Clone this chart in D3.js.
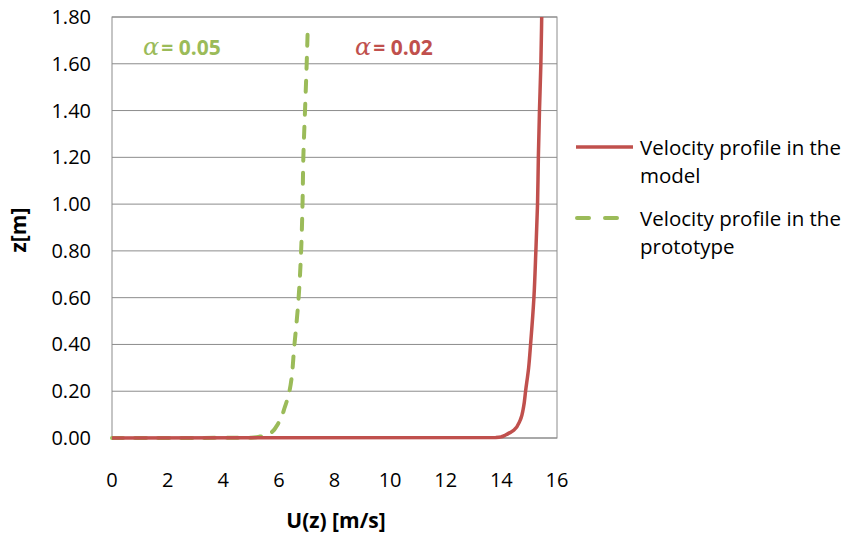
<!DOCTYPE html>
<html>
<head>
<meta charset="utf-8">
<script src="https://d3js.org/d3.v7.min.js"></script>
<style>
  body { margin: 0; background: #fff; }
  text { font-family: "Open Sans", "Noto Sans", sans-serif; fill: #000; }
</style>
</head>
<body>
<div id="chart"></div>
<script>
// values: height z [m] and velocity U [m/s]
var modelZ = [0, 0.002, 0.005, 0.013, 0.034, 0.077, 0.134, 0.2, 0.3, 0.4, 0.6, 0.8, 1.0, 1.2, 1.4, 1.6, 1.8];
var modelU = [0, 13.8, 14.0, 14.15, 14.45, 14.68, 14.8, 14.87, 14.98, 15.05, 15.17, 15.24, 15.3, 15.33, 15.37, 15.42, 15.45];
var protoZ = [0, 0.001, 0.006, 0.02, 0.063, 0.134, 0.2, 0.4, 0.6, 0.8, 1.0, 1.2, 1.4, 1.6, 1.76];
var protoU = [0, 5.0, 5.32, 5.68, 5.98, 6.22, 6.38, 6.56, 6.71, 6.8, 6.85, 6.88, 6.94, 7.0, 7.04];
var xTicks = [0, 2, 4, 6, 8, 10, 12, 14, 16];
var yTicks = [0, 0.2, 0.4, 0.6, 0.8, 1.0, 1.2, 1.4, 1.6, 1.8];
var seriesNames = ["Velocity profile in the model", "Velocity profile in the prototype"];
var alphaLabels = ["0.05", "0.02"];

var width = 846, height = 538;
var plotL = 112, plotR = 557, plotT = 17, plotB = 438;
var red = "#C0504D", green = "#9BBB59";

var svg = d3.select("#chart").append("svg").attr("width", width).attr("height", height);

var x = d3.scaleLinear().domain([0, 16]).range([plotL, plotR]);
var y = d3.scaleLinear().domain([0, 1.8]).range([plotB, plotT]);

// horizontal grid lines
svg.append("g").selectAll("line").data(yTicks).enter().append("line")
    .attr("x1", plotL).attr("x2", plotR)
    .attr("y1", function(d) { return y(d); }).attr("y2", function(d) { return y(d); })
    .attr("stroke", "#8c8c8c").attr("stroke-width", 1);

// plot border
svg.append("rect")
    .attr("x", plotL).attr("y", plotT).attr("width", plotR - plotL).attr("height", plotB - plotT)
    .attr("fill", "none").attr("stroke", "#8c8c8c").attr("stroke-width", 1);

// tick labels
svg.append("g").selectAll("text").data(yTicks).enter().append("text")
    .attr("x", 91).attr("y", function(d) { return y(d); })
    .attr("dy", "0.35em").attr("text-anchor", "end").style("font-size", "20px")
    .text(function(d) { return d.toFixed(2); });

svg.append("g").selectAll("text").data(xTicks).enter().append("text")
    .attr("x", function(d) { return x(d); }).attr("y", 480)
    .attr("dy", "0.35em").attr("text-anchor", "middle").style("font-size", "20px")
    .text(function(d) { return d; });

// axis titles
svg.append("text").attr("x", 336).attr("y", 521).attr("dy", "0.35em")
    .attr("text-anchor", "middle").style("font-size", "21px").style("font-weight", "bold")
    .text("U(z) [m/s]");
svg.append("text").attr("transform", "translate(19,230) rotate(-90)").attr("dy", "0.35em")
    .attr("text-anchor", "middle").style("font-size", "21px").style("font-weight", "bold")
    .text("z[m]");

var line = d3.line()
    .x(function(d) { return x(d[0]); })
    .y(function(d) { return y(d[1]); })
    .curve(d3.curveMonotoneY);

var modelData = d3.zip(modelU, modelZ);
var protoData = d3.zip(protoU, protoZ);

svg.append("path").datum(protoData)
    .attr("d", line).attr("fill", "none")
    .attr("stroke", green).attr("stroke-width", 4)
    .attr("stroke-dasharray", "11,12").attr("stroke-linecap", "round");

svg.append("path").datum(modelData)
    .attr("d", line).attr("fill", "none")
    .attr("stroke", red).attr("stroke-width", 3.5);

// alpha annotations
function alphaText(xPos, col, val) {
    var t = svg.append("text").attr("x", xPos).attr("y", 48).attr("dy", "0.35em")
        .style("font-size", "21px").style("font-weight", "bold").style("fill", col);
    t.append("tspan").text("\u03b1").style("font-style", "italic")
        .style("font-family", "'DejaVu Serif', serif").style("font-weight", "normal").style("font-size", "24px");
    t.append("tspan").attr("dx", 2).text("= " + val);
}
alphaText(143, green, alphaLabels[0]);
alphaText(355, red, alphaLabels[1]);

// legend
var legend = svg.append("g");
legend.append("line").attr("x1", 576).attr("x2", 633).attr("y1", 147).attr("y2", 147)
    .attr("stroke", red).attr("stroke-width", 3.5);
legend.append("line").attr("x1", 577).attr("x2", 620).attr("y1", 218).attr("y2", 218)
    .attr("stroke", green).attr("stroke-width", 4)
    .attr("stroke-dasharray", "12,16").attr("stroke-linecap", "round");

var legendLines = [["Velocity profile in the", "model"], ["Velocity profile in the", "prototype"]];
legendLines.forEach(function(ls, i) {
    ls.forEach(function(s, j) {
        legend.append("text").attr("x", 640).attr("y", 148 + i * 71 + j * 28)
            .attr("dy", "0.35em").style("font-size", "20.5px").text(s);
    });
});
</script>
</body>
</html>
